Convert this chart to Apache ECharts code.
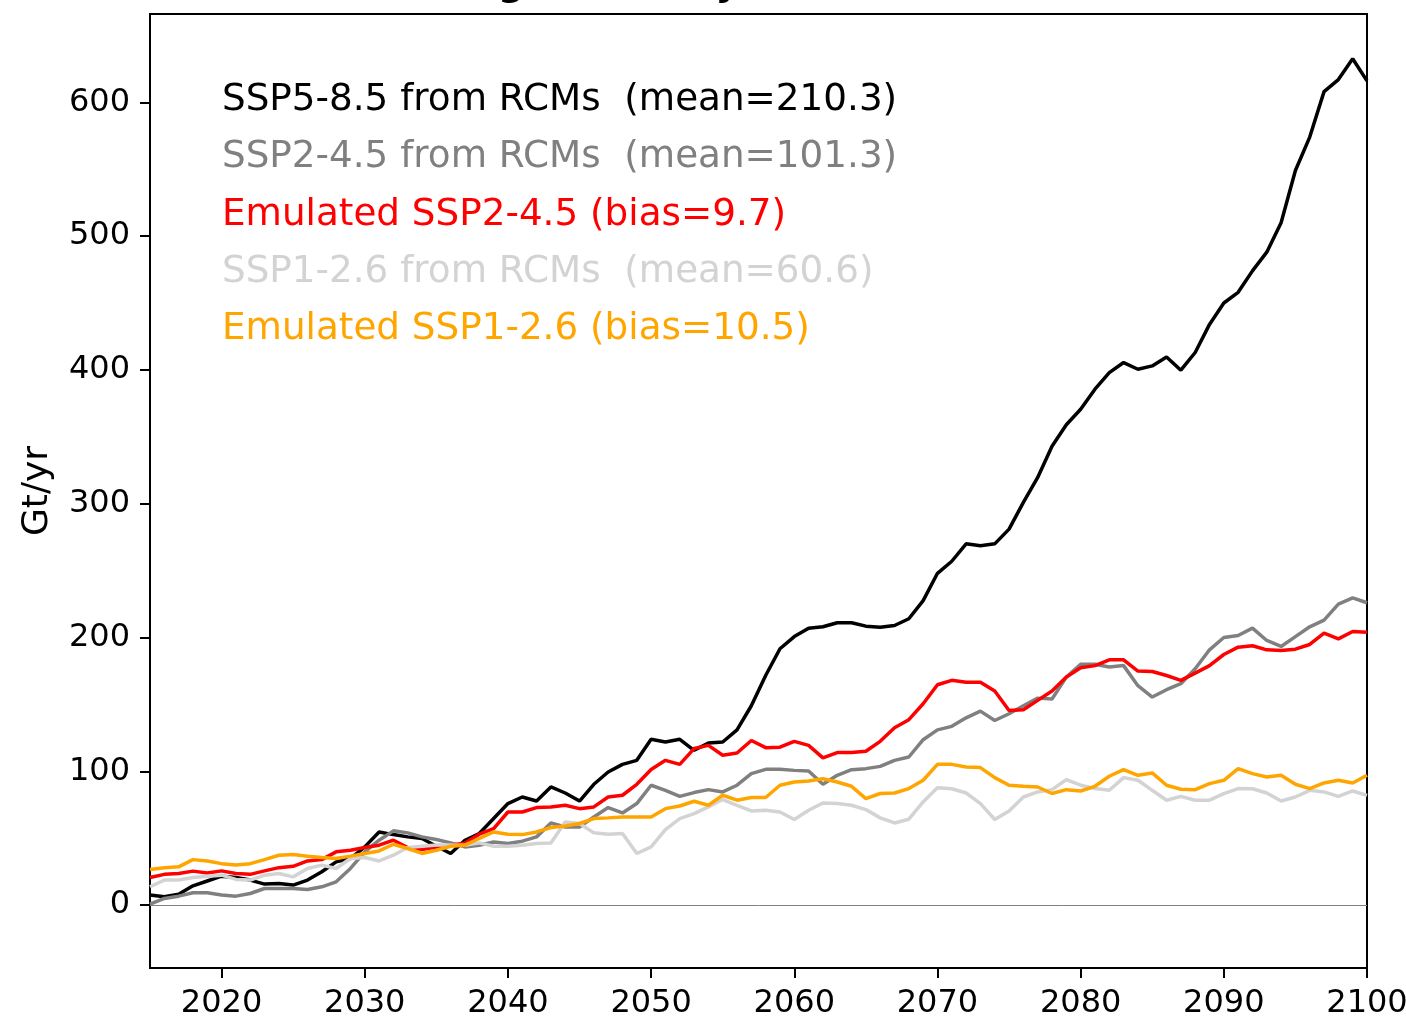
<!DOCTYPE html>
<html>
<head>
<meta charset="utf-8">
<script src="https://cdn.jsdelivr.net/npm/echarts@6/dist/echarts.min.js"></script>
<style>
  html, body { margin: 0; padding: 0; background: #fff; }
  #chart { width: 1406px; height: 1023px; }
</style>
</head>
<body>
<div id="chart"></div>
<script>
// years 2015..2100
const years = [];
for (let y = 2015; y <= 2100; y++) years.push(y);

const ssp585Rcm = [7.5, 6.2, 8.2, 14.4, 18, 21.6, 20.6, 18.7, 15.7, 16.2,
    15, 18.7, 24.9, 32.3, 34.8, 43.5, 54.7, 52.7, 51, 49.8,
    44, 38.6, 48.5, 53.5, 64.7, 75.9, 80.8, 77.8, 88.3, 83.8,
    77.8, 90.3, 99.5, 105.2, 108.2, 123.9, 121.9, 123.9, 115.7, 121.1,
    121.9, 131, 149, 171.6, 191.6, 200.7, 207, 208, 211, 211,
    208.5, 207.7, 209, 214, 227.6, 248, 257, 270, 268.6, 270,
    281, 301, 319.6, 343, 359, 370.6, 385.6, 398, 405.5, 400.5,
    403, 409.7, 399.8, 413, 434, 450, 458, 474, 488, 510,
    549, 574, 608, 617, 632.6, 616];

const ssp245Rcm = [0.7, 5, 6.7, 9.2, 9.2, 7.5, 6.7, 8.7, 12.4, 12.4,
    12.4, 11.7, 13.7, 17.4, 27.4, 39.8, 48.5, 55.5, 54, 51,
    49, 46.5, 43.5, 44.8, 47.2, 46, 47.8, 51, 61.4, 58.4,
    58.4, 65.9, 72.9, 68.9, 75.9, 89.6, 85.8, 81.3, 84.1, 86.3,
    84.6, 89.6, 98.3, 101.5, 101.5, 100.7, 100.2, 90.3, 97, 101.2,
    102, 103.7, 108.2, 110.7, 123.6, 131, 133.6, 140, 145, 138,
    143, 149, 154.7, 154, 170.4, 180, 180, 178, 179, 164,
    155.5, 161, 165.5, 176.6, 190.8, 200, 201.5, 207, 197.8, 193.3,
    200.7, 208, 213, 225, 229.6, 226];

const ssp245Emu = [20.6, 23, 23.6, 25.4, 24, 25.6, 23.6, 23, 25.6, 28,
    29, 33, 34, 39.8, 41, 43, 44.8, 48.5, 43, 41.5,
    43.5, 44.8, 46.5, 53, 57.2, 69.6, 69.6, 72.9, 73.4, 74.6,
    72.1, 73.4, 80.8, 82.1, 90.3, 101.3, 108.2, 105.2, 117, 119.4,
    112, 113.7, 123, 117.7, 118, 122.4, 119.4, 110, 114, 114,
    115, 122.4, 132.6, 138.6, 150.5, 164.7, 168, 166.6, 166.6, 160,
    145.5, 146, 153, 160, 170.4, 177.4, 179, 183.3, 183.3, 174.9,
    174.6, 171.6, 168, 173.4, 179, 187.3, 192.8, 193.8, 190.8, 190.3,
    191.3, 194.8, 203.2, 199, 204.5, 204];

const ssp126Rcm = [13.7, 18.7, 18.7, 20.6, 21.6, 22.4, 19.2, 18.7, 22.4, 23.6,
    21.1, 27.4, 29.9, 27.4, 34.8, 35.6, 33, 37.3, 43, 44,
    45, 45, 44.8, 46.5, 44, 44, 44.8, 46, 46.5, 62.2,
    61, 54, 53, 53.5, 38.6, 43.5, 56.5, 64.7, 68.4, 73.4,
    78.9, 74.6, 70.4, 70.9, 69.6, 64, 70.9, 76.3, 75.9, 74.6,
    71.4, 65.2, 61.4, 64.2, 77.1, 87.8, 87, 83.8, 75.9, 64,
    70.4, 80.8, 84.6, 86.3, 93.8, 89.6, 87.1, 85.8, 95.3, 93.3,
    85.8, 78.4, 81.3, 78.4, 78.4, 83.3, 87.1, 87, 83.8, 77.8,
    80.8, 85.8, 84.6, 81.3, 85.3, 82];

const ssp126Emu = [26.6, 28, 28.6, 34, 33, 31, 29.9, 31, 34, 37.3,
    37.8, 36.6, 35.6, 34.8, 36.6, 38.6, 40.5, 45.5, 42.3, 38.6,
    41, 44, 44.8, 49.8, 54.7, 53, 52.7, 54.7, 58, 59.2,
    61, 64.7, 65.2, 65.9, 65.9, 65.9, 72.1, 74.1, 77.6, 74.6,
    82.1, 78.4, 80.4, 80.4, 89.6, 92, 92.8, 94.5, 92, 88.8,
    79.6, 83.4, 83.8, 87.1, 93.3, 105.2, 105.2, 103.2, 102.8, 95.3,
    89.6, 88.8, 88.3, 83.4, 86.3, 85.3, 88.8, 96.3, 101.3, 97,
    98.8, 89.6, 86.6, 86.3, 90.8, 93.3, 102, 98.3, 95.8, 97,
    90.3, 87.1, 91.3, 93.3, 91.3, 97];

const seriesNames = [
    'SSP5-8.5 from RCMs  (mean=210.3)',
    'SSP2-4.5 from RCMs  (mean=101.3)',
    'Emulated SSP2-4.5 (bias=9.7)',
    'SSP1-2.6 from RCMs  (mean=60.6)',
    'Emulated SSP1-2.6 (bias=10.5)'
];
const seriesColors = ['#000000', '#808080', '#ff0000', '#d3d3d3', '#ffa500'];
const seriesValues = [ssp585Rcm, ssp245Rcm, ssp245Emu, ssp126Rcm, ssp126Emu];

const xTicks = [2020, 2030, 2040, 2050, 2060, 2070, 2080, 2090, 2100];
const yTicks = [0, 100, 200, 300, 400, 500, 600];

const FONT = 'DejaVu Sans';

const series = seriesValues.map((vals, i) => {
    let s = {
        name: seriesNames[i],
        type: 'line',
        data: years.map((y, k) => [y, vals[k]]),
        showSymbol: false,
        symbol: 'none',
        lineStyle: { color: seriesColors[i], width: 3.5 },
        itemStyle: { color: seriesColors[i] },
        z: 3 + i,
        silent: true,
        animation: false
    };
    if (i === 0) {
        s.markLine = {
            silent: true,
            symbol: 'none',
            label: { show: false },
            lineStyle: { color: '#808080', width: 1, type: 'solid' },
            data: [{ yAxis: 0 }]
        };
    }
    return s;
});

const legendTexts = seriesNames.map((name, i) => ({
    type: 'text',
    left: 222,
    top: 104 + i * 57.3 - 22,
    style: {
        text: name,
        fill: seriesColors[i],
        font: '37.3px "' + FONT + '"'
    }
}));

const option = {
    animation: false,
    backgroundColor: '#fff',
    textStyle: { fontFamily: FONT },
    grid: {
        left: 150, right: 39, top: 14, bottom: 55,
        outerBoundsMode: 'none',
        containLabel: false,
        show: true,
        borderColor: '#000',
        borderWidth: 2,
        backgroundColor: 'transparent'
    },
    graphic: [{
        type: 'text',
        left: 268,
        top: -33,
        style: {
            text: '(b) Discharge anomaly',
            fill: '#000',
            font: 'bold 37px "' + FONT + '"'
        }
    }].concat(legendTexts),
    xAxis: {
        type: 'value',
        min: 2015,
        max: 2100,
        splitLine: { show: false },
        axisLine: { show: true, onZero: false, lineStyle: { color: '#000', width: 2 } },
        axisTick: {
            show: true, inside: false, length: 10,
            customValues: xTicks,
            lineStyle: { color: '#000', width: 2 }
        },
        axisLabel: {
            customValues: xTicks,
            formatter: v => String(v),
            color: '#000',
            fontSize: 32,
            fontFamily: FONT,
            margin: 20
        }
    },
    yAxis: {
        type: 'value',
        min: -47,
        max: 666,
        name: 'Gt/yr',
        nameLocation: 'middle',
        nameRotate: 90,
        nameGap: 94,
        nameTextStyle: { fontSize: 36, color: '#000', fontFamily: FONT },
        splitLine: { show: false },
        axisLine: { show: true, onZero: false, lineStyle: { color: '#000', width: 2 } },
        axisTick: {
            show: true, inside: false, length: 10,
            customValues: yTicks,
            lineStyle: { color: '#000', width: 2 }
        },
        axisLabel: {
            customValues: yTicks,
            formatter: v => String(v),
            color: '#000',
            fontSize: 32,
            fontFamily: FONT,
            margin: 20
        }
    },
    series: series
};

const chart = echarts.init(document.getElementById('chart'), null, { renderer: 'canvas' });
chart.setOption(option);
</script>
</body>
</html>
